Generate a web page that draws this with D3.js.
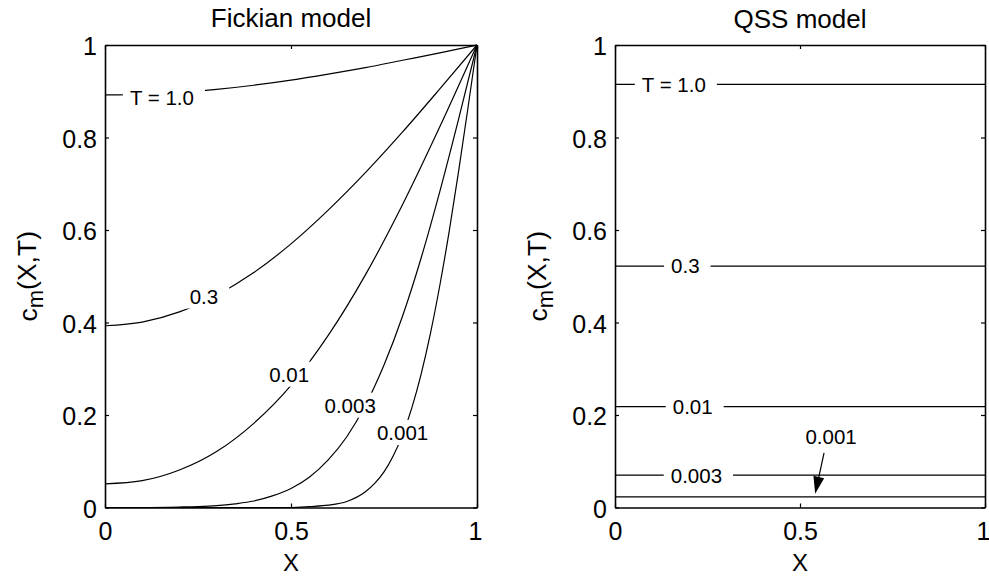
<!DOCTYPE html>
<html>
<head>
<meta charset="utf-8">
<script src="https://cdn.jsdelivr.net/npm/d3@7"></script>
<style>
  body { margin: 0; background: #fff; }
  svg { display: block; }
  text { font-family: "Liberation Sans", Arial, Helvetica, sans-serif; fill: #000; }
</style>
</head>
<body>
<svg id="chart" width="989" height="578"></svg>
<script>
// ---- Fickian model: concentration profiles c_m(X,T) ----
const fickX_T10 = [0, 0.1, 0.2, 0.3, 0.4, 0.5, 0.6, 0.7, 0.8, 0.9, 1];
const fickC_T10 = [0.892, 0.893, 0.897, 0.904, 0.913, 0.924, 0.937, 0.951, 0.967, 0.983, 1];

const fickX_T03 = [0, 0.1, 0.2, 0.3, 0.4, 0.5, 0.6, 0.7, 0.8, 0.9, 1];
const fickC_T03 = [0.393, 0.401, 0.423, 0.459, 0.508, 0.570, 0.643, 0.724, 0.812, 0.905, 1];

const fickX_T001 = [0, 0.1, 0.2, 0.3, 0.4, 0.5, 0.6, 0.7, 0.8, 0.9, 1];
const fickC_T001 = [0.051, 0.058, 0.081, 0.121, 0.182, 0.264, 0.372, 0.503, 0.655, 0.823, 1];

const fickX_T0003 = [0, 0.1, 0.2, 0.25, 0.3, 0.35, 0.4, 0.45, 0.5, 0.55, 0.6, 0.65, 0.7, 0.75, 0.8, 0.85, 0.9, 0.95, 1];
const fickC_T0003 = [0, 0, 0.001, 0.002, 0.004, 0.008, 0.014, 0.025, 0.041, 0.066, 0.103, 0.153, 0.221, 0.308, 0.414, 0.540, 0.683, 0.838, 1];

const fickX_T0001 = [0, 0.4, 0.5, 0.55, 0.6, 0.65, 0.7, 0.725, 0.75, 0.775, 0.8, 0.825, 0.85, 0.875, 0.9, 0.925, 0.95, 0.975, 1];
const fickC_T0001 = [0, 0, 0, 0.002, 0.005, 0.013, 0.034, 0.052, 0.077, 0.112, 0.157, 0.216, 0.289, 0.377, 0.480, 0.596, 0.724, 0.860, 1];

const fickLabels = ["T = 1.0", "0.3", "0.01", "0.003", "0.001"];
// where each contour label sits, in data units (X, c)
const fickLabelAt = [[0.153, 0.887], [0.266, 0.457], [0.495, 0.288], [0.659, 0.221], [0.800, 0.162]];

// ---- QSS model: uniform concentration levels ----
const qssLabels = ["T = 1.0", "0.3", "0.01", "0.003", "0.001"];
const qssLevels = [0.915, 0.522, 0.218, 0.070, 0.023];
const qssLabelX = [0.159, 0.19, 0.21, 0.22, null];
// the 0.001 level is labelled off the line with an arrow
const qssArrowText = [0.584, 0.153];
const qssArrowFrom = [0.565, 0.118];
const qssArrowTo = [0.541, 0.030];

// ---- axes ----
const xTicks = [0, 0.5, 1];
const yTicks = [0, 0.2, 0.4, 0.6, 0.8, 1];
const titles = ["Fickian model", "QSS model"];

const svg = d3.select("#chart");
const yPix = [507.5, 45];
const panels = [[105, 477], [615, 985]];

const line = (x, y) => d3.line()
  .x(d => x(d[0])).y(d => y(d[1]))
  .curve(d3.curveMonotoneX);

function addLabel(g, text, px, py) {
  const lg = g.append("g");
  const t = lg.append("text")
    .attr("x", px).attr("y", py)
    .attr("text-anchor", "middle")
    .attr("dy", "0.36em")
    .style("font-size", "20.5px")
    .text(text);
  const b = t.node().getBBox();
  lg.insert("rect", "text")
    .attr("x", b.x - 7).attr("y", b.y - 1)
    .attr("width", b.width + 18).attr("height", b.height + 2)
    .attr("fill", "#fff");
}

function drawFrame(g, x, y) {
  const [x0, x1] = x.range();
  const [yb, yt] = y.range();
  g.append("g").attr("transform", `translate(0,${yb})`)
    .call(d3.axisBottom(x).tickValues(xTicks).tickFormat(String)
      .tickSizeInner(-4).tickSizeOuter(0).tickPadding(15))
    .call(a => a.selectAll("text").style("font-size", "25px"))
    .call(a => a.selectAll(".tick").filter(d => d === 1).select("text").attr("x", -2));
  g.append("g").attr("transform", `translate(0,${yt})`)
    .call(d3.axisTop(x).tickValues(xTicks).tickFormat("")
      .tickSizeInner(-4).tickSizeOuter(0));
  g.append("g").attr("transform", `translate(${x0},0)`)
    .call(d3.axisLeft(y).tickValues(yTicks).tickFormat(String)
      .tickSizeInner(-4).tickSizeOuter(0).tickPadding(8))
    .call(a => a.selectAll("text").style("font-size", "25px").attr("dy", "0.38em"));
  g.append("g").attr("transform", `translate(${x1},0)`)
    .call(d3.axisRight(y).tickValues(yTicks).tickFormat("")
      .tickSizeInner(-4).tickSizeOuter(0));
  g.selectAll(".domain").attr("stroke", "#000").attr("stroke-width", 1.6);
  g.selectAll(".tick line").attr("stroke", "#000").attr("stroke-width", 1.2);
  g.selectAll(".tick text").attr("fill", "#000")
    .style("font-family", '"Liberation Sans", Arial, sans-serif');

  // axis labels
  const xm = (x0 + x1) / 2;
  g.append("text").attr("x", xm).attr("y", 571)
    .attr("text-anchor", "middle").style("font-size", "24px").text("X");
  const yl = g.append("text")
    .attr("transform", `translate(${x0 - 68},${(yb + yt) / 2}) rotate(-90)`)
    .attr("text-anchor", "middle").style("font-size", "26.5px");
  yl.append("tspan").text("c");
  yl.append("tspan").attr("dy", "0.28em").style("font-size", "22px").text("m");
  yl.append("tspan").attr("dy", "-0.28em").text("(X,T)");
}

const curveStroke = 1.2;

// ---- left panel ----
{
  const g = svg.append("g");
  const x = d3.scaleLinear([0, 1], panels[0]);
  const y = d3.scaleLinear([0, 1], yPix);
  const series = [
    [fickX_T10, fickC_T10], [fickX_T03, fickC_T03], [fickX_T001, fickC_T001],
    [fickX_T0003, fickC_T0003], [fickX_T0001, fickC_T0001]
  ];
  series.forEach(([xs, cs]) => {
    g.append("path")
      .datum(xs.map((v, i) => [v, cs[i]]))
      .attr("fill", "none").attr("stroke", "#000").attr("stroke-width", curveStroke)
      .attr("d", line(x, y));
  });
  fickLabels.forEach((t, i) => addLabel(g, t, x(fickLabelAt[i][0]), y(fickLabelAt[i][1])));
  drawFrame(g, x, y);
  g.append("text").attr("x", (panels[0][0] + panels[0][1]) / 2).attr("y", 27)
    .attr("text-anchor", "middle").style("font-size", "26px").text(titles[0]);
}

// ---- right panel ----
{
  const g = svg.append("g");
  const x = d3.scaleLinear([0, 1], panels[1]);
  const y = d3.scaleLinear([0, 1], yPix);
  qssLevels.forEach(v => {
    g.append("path")
      .datum([[0, v], [1, v]])
      .attr("fill", "none").attr("stroke", "#000").attr("stroke-width", curveStroke)
      .attr("d", line(x, y));
  });
  qssLabels.forEach((t, i) => {
    if (qssLabelX[i] !== null) addLabel(g, t, x(qssLabelX[i]), y(qssLevels[i]));
  });
  // arrow label for the lowest level
  g.append("text")
    .attr("x", x(qssArrowText[0])).attr("y", y(qssArrowText[1]))
    .attr("text-anchor", "middle").attr("dy", "0.36em")
    .style("font-size", "20.5px").text(qssLabels[4]);
  const ax0 = x(qssArrowFrom[0]), ay0 = y(qssArrowFrom[1]);
  const ax1 = x(qssArrowTo[0]), ay1 = y(qssArrowTo[1]);
  const len = Math.hypot(ax1 - ax0, ay1 - ay0);
  const ux = (ax1 - ax0) / len, uy = (ay1 - ay0) / len;
  const headL = 17, headW = 5.5;
  const bx = ax1 - ux * headL, by = ay1 - uy * headL;
  g.append("line")
    .attr("x1", ax0).attr("y1", ay0).attr("x2", bx).attr("y2", by)
    .attr("stroke", "#000").attr("stroke-width", 1.2);
  g.append("path")
    .attr("d", `M${ax1},${ay1}L${bx - uy * headW},${by + ux * headW}L${bx + uy * headW},${by - ux * headW}Z`)
    .attr("fill", "#000");
  drawFrame(g, x, y);
  g.append("text").attr("x", (panels[1][0] + panels[1][1]) / 2).attr("y", 28)
    .attr("text-anchor", "middle").style("font-size", "26px").text(titles[1]);
}
</script>
</body>
</html>
